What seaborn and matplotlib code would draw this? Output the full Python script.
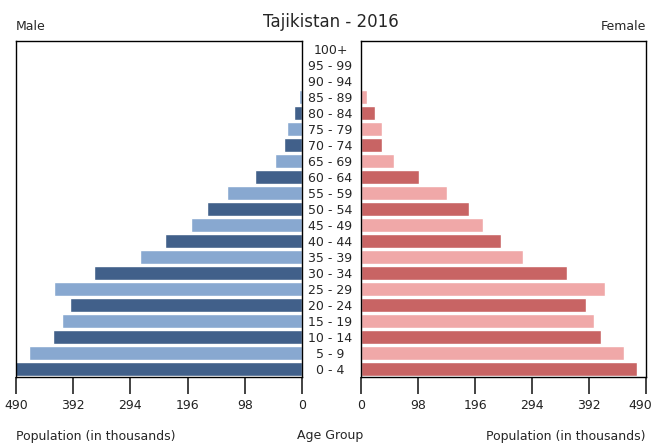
import matplotlib
matplotlib.use("Agg")
import matplotlib.pyplot as plt
import matplotlib.transforms as mtransforms
import pandas as pd
import seaborn as sns

# age groups from oldest (top) to youngest (bottom)
ages = ["100+", "95 - 99", "90 - 94", "85 - 89", "80 - 84", "75 - 79", "70 - 74",
        "65 - 69", "60 - 64", "55 - 59", "50 - 54", "45 - 49", "40 - 44", "35 - 39",
        "30 - 34", "25 - 29", "20 - 24", "15 - 19", "10 - 14", "5 - 9", "0 - 4"]
male = [1, 1.2, 2, 4.6, 13, 26, 30, 46, 81, 128, 163, 191, 235, 278,
        357, 425, 397, 412, 427, 468, 492]
female = [1, 1.2, 2, 10, 24, 36, 36, 57, 100, 147, 186, 209, 241, 279,
          355, 419, 387, 400, 413, 453, 474]
xticks = [0, 98, 196, 294, 392, 490]

male_cols = ["#41608a" if i % 2 == 0 else "#88a8d0" for i in range(len(ages))]
female_cols = ["#c86464" if i % 2 == 0 else "#f0a8a8" for i in range(len(ages))]

df = pd.DataFrame({"age": ages, "male": male, "female": female})

sns.set_theme(style="ticks")
plt.rcParams["font.family"] = ["DejaVu Sans"]

fig = plt.figure(figsize=(6.56, 4.43), dpi=100)
axl = fig.add_axes([16 / 656, 1 - 377 / 443, 286 / 656, 336 / 443])
axr = fig.add_axes([361 / 656, 1 - 377 / 443, 285 / 656, 336 / 443])

sns.barplot(data=df, y="age", x="male", hue="age", order=ages, hue_order=ages,
            palette=male_cols, orient="h", width=0.82, legend=False, ax=axl,
            saturation=1)
sns.barplot(data=df, y="age", x="female", hue="age", order=ages, hue_order=ages,
            palette=female_cols, orient="h", width=0.82, legend=False, ax=axr,
            saturation=1)

for ax in (axl, axr):
    ax.set_xticks(xticks)
    ax.set_xticklabels([str(t) for t in xticks])
    ax.tick_params(axis="x", direction="out", length=12, width=1.2, pad=4,
                   labelsize=9, colors="#222222")
    ax.set_ylim(len(ages) - 0.5, -0.5)
    ax.set_ylabel("")
    for s in ax.spines.values():
        s.set_visible(True)
        s.set_color("black")
        s.set_linewidth(1)

axl.set_xlim(490, 0)
axr.set_xlim(0, 490)

# keep the last "490" inside the figure, as in the original
last = axr.get_xticklabels()[-1]
last.set_horizontalalignment("right")
last.set_transform(last.get_transform() +
                   mtransforms.ScaledTranslation(6 / 100, 0, fig.dpi_scale_trans))

axl.set_yticks([])
axr.set_yticks(range(len(ages)))
axr.set_yticklabels(ages)
axr.tick_params(axis="y", length=0, pad=22, labelsize=9)
for lab in axr.get_yticklabels():
    lab.set_horizontalalignment("center")

axl.set_xlabel("Population (in thousands)", loc="left", fontsize=9, labelpad=13)
axr.set_xlabel("Population (in thousands)", loc="right", fontsize=9, labelpad=13)
fig.text(330 / 656, 1 - 436 / 443, "Age Group", ha="center", va="center", fontsize=9)

axl.set_title("Male", loc="left", fontsize=9, pad=8)
axr.set_title("Female", loc="right", fontsize=9, pad=8)
fig.text(331 / 656, 1 - 22 / 443, "Tajikistan - 2016", ha="center", va="center",
         fontsize=12)

fig.savefig("out.png", dpi=100)
